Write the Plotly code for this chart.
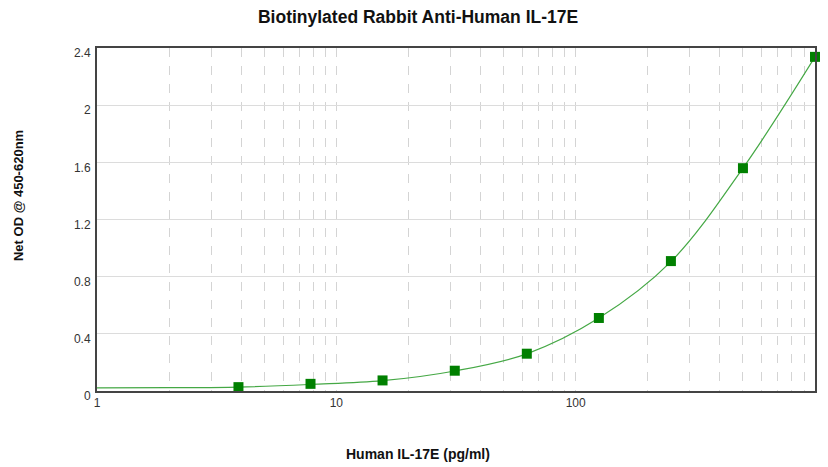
import plotly.graph_objects as go

# Standard points (concentration pg/ml, net OD)
conc = [3.9, 7.8, 15.6, 31.25, 62.5, 125, 250, 500, 1000]
od = [0.027, 0.05, 0.074, 0.142, 0.261, 0.511, 0.909, 1.559, 2.338]

# Fitted curve
curve_x = [1, 2, 3.9, 7.8, 15.6, 31.25, 62.5, 125, 250, 500, 1000]
curve_y = [0.022, 0.023, 0.027, 0.046, 0.072, 0.14, 0.26, 0.51, 0.905, 1.56, 2.338]

x_ticks = [1, 10, 100, 1000]
y_ticks = [0, 0.4, 0.8, 1.2, 1.6, 2, 2.4]

title_text = "Biotinylated Rabbit Anti-Human IL-17E"
x_title = "Human IL-17E (pg/ml)"
y_title = "Net OD @ 450-620nm"

fig = go.Figure()
fig.add_trace(go.Scatter(x=curve_x, y=curve_y, mode="lines", line_shape="spline",
                         line=dict(color="#45a845", width=1.2), hoverinfo="skip",
                         showlegend=False))
fig.add_trace(go.Scatter(x=conc, y=od, mode="markers",
                         marker=dict(symbol="square", size=10, color="#008000"),
                         showlegend=False, cliponaxis=False))

font = "Liberation Sans, Arial, sans-serif"
# page body has an 8px margin: figure sized to fit inside the visible area
fig.update_layout(
    width=812, height=459,
    margin=dict(l=89, r=5, t=40, b=76),
    paper_bgcolor="white", plot_bgcolor="white",
    font=dict(family=font, size=12, color="#333"),
    title=dict(text=f"<b>{title_text}</b>", x=0.505, xanchor="center",
               y=0.9804, yanchor="middle", font=dict(size=17.5, color="#111")),
    annotations=[
        dict(text=f"<b>{x_title}</b>", xref="paper", yref="paper", x=0.447, y=-0.183,
             xanchor="center", yanchor="middle", showarrow=False,
             font=dict(size=14, color="#111")),
        dict(text=f"<b>{y_title}</b>", xref="paper", yref="paper", x=-0.110, y=0.5685,
             xanchor="center", yanchor="middle", showarrow=False, textangle=-90,
             font=dict(size=13, color="#111")),
    ],
)
fig.update_xaxes(type="log", range=[0, 3], tickvals=x_ticks, ticktext=[str(v) for v in x_ticks],
                 showline=True, linecolor="#444", linewidth=2, mirror=True,
                 showgrid=True, gridcolor="#d4d4d4", griddash="dash", gridwidth=1,
                 ticks="", zeroline=False, automargin=False,
                 minor=dict(dtick="D1", showgrid=True, gridcolor="#d4d4d4", griddash="dash", ticks=""))
fig.update_yaxes(range=[0, 2.4], tickvals=y_ticks,
                 showline=True, linecolor="#444", linewidth=2, mirror=True,
                 showgrid=True, gridcolor="#dcdcdc", gridwidth=1, ticks="", zeroline=False,
                 automargin=False, ticklabelshift=5, ticklabelstandoff=2)
fig.write_html("out.html")
